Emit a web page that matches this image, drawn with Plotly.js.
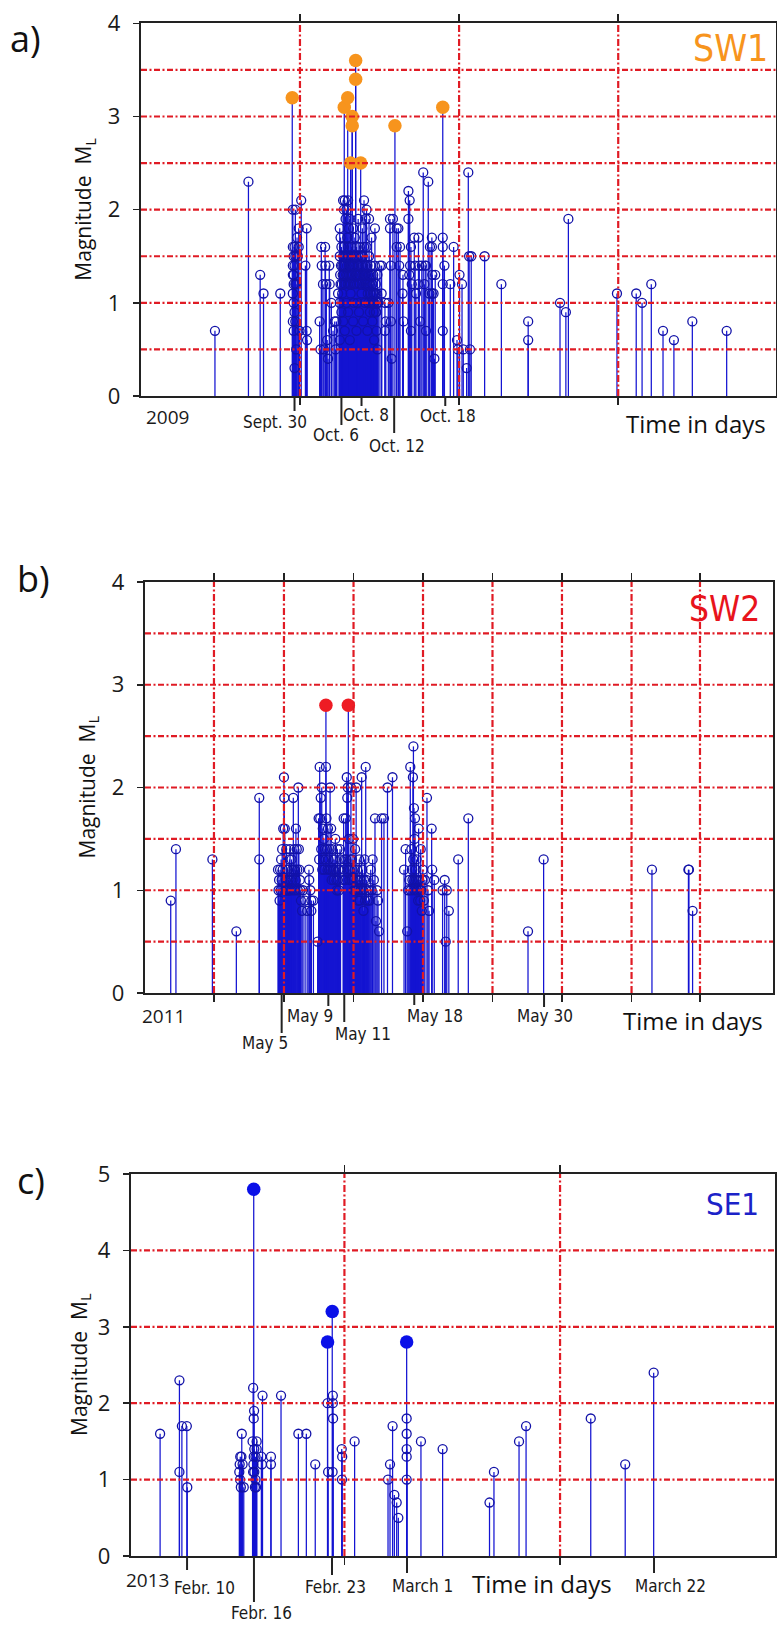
<!DOCTYPE html>
<html><head><meta charset="utf-8">
<script src="https://cdn.plot.ly/plotly-3.0.1.min.js"></script>
<style>html,body{margin:0;padding:0;background:#fff}#chart{width:777px;height:1634px}</style>
</head><body><div id="chart"></div>
<script>
// ---------------- DATA ----------------
// Panel a) SW1, 2009 - x: days counted from 1 Sept 2009 (Sept 30 = 29)
const eventsA = [
[19.6,0.7],[23.6,2.3],[25.0,1.3],[25.4,1.1],[27.4,1.1],
[28.9,2.0],[29.2,2.0],[28.9,1.6],[29.1,1.6],[29.0,1.5],[29.2,1.5],[28.9,1.4],[29.1,1.4],[28.9,1.3],[29.0,1.3],[29.0,1.2],[29.2,1.2],[28.9,1.1],[29.0,1.0],[29.1,0.9],[28.9,0.8],[29.2,0.8],[29.0,0.7],[29.1,0.3],[29.3,0.5],[29.3,1.2],[29.4,1.7],[29.5,1.5],[29.6,1.8],[29.6,1.6],[29.7,0.7],[29.9,2.1],[30.4,1.4],[30.55,1.8],[30.55,0.7],[30.6,0.6],
[32.1,0.8],[32.2,0.5],[32.3,1.6],[32.35,1.4],[32.5,1.2],[32.6,0.5],[32.75,1.6],[32.8,1.4],[32.9,1.2],[33.0,0.6],[33.1,0.4],[33.25,1.4],[33.3,1.2],[33.5,1.0],[33.7,0.7],[33.9,0.8],[34.0,0.5],[34.1,0.8],[34.3,1.1],
[34.5,1.8],[34.5,1.5],[34.5,1.0],[34.5,0.6],[34.6,1.7],[34.6,1.2],[34.7,1.6],[34.7,0.9],[34.8,1.4],[34.8,1.1],[34.9,2.1],[34.9,1.5],[34.9,0.8],[35.0,2.0],[35.0,1.6],[35.0,1.3],[35.1,2.1],[35.1,1.4],[35.1,0.7],[35.2,1.9],[35.2,1.2],[35.3,2.0],[35.3,1.5],[35.3,1.0],[35.4,1.7],[35.4,1.3],[35.5,2.1],[35.5,1.6],[35.5,0.9],[35.6,1.8],[35.6,1.4],[35.7,1.9],[35.7,1.2],[35.7,0.6],[35.8,1.5],[35.8,1.1],[35.9,1.6],[35.9,1.3],[36.1,1.8],[36.1,1.4],[36.1,0.8],[36.2,1.5],[36.2,1.0],[36.3,1.7],[36.3,1.2],[36.5,1.6],[36.5,1.3],[36.5,0.7],[36.6,1.4],[36.6,1.0],[36.7,1.9],[36.7,1.5],[36.8,1.3],[36.8,0.9],[36.9,1.6],[36.9,1.2],[37.1,1.5],[37.1,1.1],[37.2,1.8],[37.2,1.3],[37.3,1.4],[37.3,0.8],[37.4,2.1],[37.4,1.6],[37.5,1.3],[37.5,1.0],[37.6,1.9],[37.6,1.2],[37.7,2.0],[37.7,1.6],[37.8,1.4],[37.8,0.7],[37.9,1.3],[37.9,1.0],[38.0,1.9],[38.0,1.5],[38.1,1.2],[38.1,0.9],[38.2,1.4],[38.2,1.1],[38.3,1.7],[38.3,1.3],[38.4,1.2],[38.4,0.8],[38.5,1.3],[38.5,1.0],[38.6,1.1],[38.6,0.6],[38.7,1.8],[38.7,1.4],[38.8,1.2],[38.8,0.9],[38.9,1.1],[38.9,0.7],[39.0,1.3],[39.0,0.5],[39.1,1.0],
[34.55,1.3],[34.65,1.4],[34.75,1.2],[34.85,1.3],[34.95,1.4],[35.05,1.2],[35.15,1.5],[35.25,1.3],[35.35,1.4],[35.45,1.2],[35.55,1.5],[35.65,1.3],[35.75,1.4],[35.85,1.2],[35.95,1.4],[36.05,1.3],[36.15,1.2],[36.25,1.4],[36.35,1.3],[36.45,1.5],[36.55,1.2],[36.65,1.3],[36.75,1.4],[36.85,1.2],[36.95,1.3],[37.05,1.4],[37.15,1.2],[37.25,1.5],[37.35,1.3],[37.45,1.2],[37.55,1.4],[37.65,1.3],[37.75,1.2],[37.85,1.1],[37.95,1.2],[38.05,1.3],[38.15,1.1],[38.25,1.0],[38.35,1.2],[38.45,1.1],[38.55,0.9],[38.65,1.0],[38.75,1.1],[38.85,0.9],[38.95,1.0],
[39.3,1.4],[39.5,1.4],[39.5,1.1],[39.9,1.0],[39.9,0.7],[40.0,0.8],[40.3,1.0],[40.5,1.9],[40.5,1.8],[40.6,1.4],[40.6,0.8],[40.7,0.4],[40.85,1.9],[41.3,1.8],[41.3,1.6],[41.5,1.8],[41.6,1.4],[41.7,1.6],[42.0,1.1],[42.05,1.3],[42.1,0.8],
[42.7,2.2],[42.85,2.1],[42.7,1.9],[42.8,1.3],[42.9,1.4],[43.0,1.6],[43.0,0.7],[43.1,1.2],[43.4,1.7],[43.5,1.4],[43.6,1.1],[43.9,1.7],[43.9,1.2],[44.0,1.4],[44.1,0.8],[44.3,1.4],[44.47,2.4],[44.6,1.2],[44.7,1.4],[44.8,1.4],[44.8,0.7],[45.07,2.3],[45.2,1.1],[45.27,1.6],[45.5,1.7],[45.5,1.6],[45.55,1.3],[45.5,1.1],[45.7,1.1],[45.8,0.4],[45.9,1.3],
[46.8,1.7],[46.8,1.6],[47.0,1.4],[46.8,1.2],[46.8,0.7],[47.7,1.2],[48.1,1.6],[48.5,0.6],[48.6,0.5],[48.8,1.3],[49.1,1.2],[49.25,0.5],[49.65,0.3],[49.85,2.4],[49.95,1.5],[50.05,0.5],[50.2,1.5],
[51.8,1.5],[53.8,1.2],[57.0,0.8],[57.0,0.6],[60.8,1.0],[61.5,0.9],[61.8,1.9],[67.6,1.1],[69.9,1.1],[70.6,1.0],[71.7,1.2],[73.1,0.7],[74.4,0.6],[76.6,0.8],[80.7,0.7]
];
const bigA = [[28.83,3.2],[35.04,3.1],[35.45,3.2],[35.99,3.0],[35.99,2.9],[36.40,3.6],[36.40,3.4],[35.8,2.5],[37.0,2.5],[41.09,2.9],[46.8,3.1]];
const tickDayA = [29.1, 34.7, 37.1, 41.0, 47.1];
const tickTextA = ['Sept. 30','Oct. 6','Oct. 8','Oct. 12','Oct. 18'];
const vGridA = [29.75, 48.75, 67.75];
const hGridA = [0.5,1,1.5,2,2.5,3,3.5];

// Panel b) SW2, 2011 - x: day of May 2011
const eventsB = [
[-5.7,0.9],[-5.2,1.4],[-1.7,1.3],[0.6,0.6],[2.8,1.9],[2.8,1.3],
[4.6,1.2],[4.7,1.1],[4.8,1.2],[4.9,1.3],[5.0,1.4],[5.1,1.6],[5.17,2.1],[5.2,1.9],[5.25,1.6],[5.3,1.0],[5.4,1.4],[5.5,1.2],[5.6,1.1],[5.75,1.4],[5.9,1.3],[6.07,1.9],[6.15,1.4],[6.25,1.2],[6.32,1.6],[6.4,1.4],[6.55,2.0],[6.6,1.4],[6.7,1.1],[6.8,0.9],[6.9,0.8],[7.0,1.0],
[4.65,1.0],[4.75,0.9],[4.85,1.0],[4.95,1.1],[5.05,1.2],[5.35,1.1],[5.45,1.0],[5.55,1.2],[5.65,1.0],[5.7,1.3],[5.8,1.1],[5.85,1.0],[5.95,1.2],[6.0,1.1],[6.1,1.2],[6.2,1.0],[6.3,1.1],[6.45,1.2],[6.5,1.0],[6.65,1.2],[6.75,1.0],
[7.2,0.9],[7.4,0.8],[7.57,1.2],[7.6,1.1],[7.7,1.0],[7.8,0.9],[7.8,0.8],[8.0,0.9],
[8.4,0.5],[8.5,1.7],[8.6,2.2],[8.65,1.7],[8.7,1.9],[8.8,2.0],[8.9,1.6],[9.0,1.5],[9.2,2.2],[9.25,1.7],[9.3,1.4],[9.4,1.6],[9.5,1.2],[9.6,2.0],[9.7,1.6],[9.8,1.4],[9.9,1.3],[10.0,1.2],[10.1,1.5],[10.2,1.1],[10.3,1.4],[10.4,1.2],[10.55,1.4],[10.6,1.3],
[8.55,1.3],[8.75,1.4],[8.85,1.2],[8.95,1.3],[9.05,1.2],[9.1,1.4],[9.15,1.3],[9.35,1.2],[9.45,1.3],[9.55,1.4],[9.65,1.2],[9.75,1.1],[9.85,1.2],[9.95,1.1],[10.05,1.3],[10.15,1.2],[10.25,1.0],[10.35,1.1],[10.45,1.0],[10.5,1.2],
[10.85,1.1],[10.9,1.7],[11.0,1.3],[11.1,1.7],[11.2,2.1],[11.25,1.9],[11.3,2.0],[11.4,1.5],[11.5,1.2],[11.6,2.0],[11.7,1.3],[11.8,1.5],[11.9,1.0],[12.0,1.4],[12.1,2.0],[12.2,1.2],[12.3,0.9],[12.4,1.3],[12.5,1.1],[12.63,2.1],[12.7,1.2],[12.8,0.8],[12.9,1.3],[13.02,2.2],[13.1,1.1],[13.2,0.9],[13.3,1.0],[13.5,1.2],[13.68,1.3],[13.8,1.1],[13.91,1.7],[14.0,0.7],[14.1,1.0],[14.2,0.9],[14.3,0.6],[14.54,1.7],[14.77,1.7],[15.11,2.0],[15.59,2.1],
[10.95,1.2],[11.05,1.1],[11.15,1.3],[11.35,1.2],[11.45,1.1],[11.55,1.3],[11.65,1.1],[11.75,1.2],[11.85,1.1],[11.95,1.2],[12.05,1.0],[12.15,1.1],[12.25,1.0],[12.35,1.1],[12.45,0.9],[12.55,1.0],[12.75,1.0],[12.85,1.1],[12.95,0.9],[13.05,1.0],[13.4,0.9],[13.6,1.0],
[16.7,1.2],[16.85,1.4],[17.0,0.6],[17.1,1.0],[17.3,2.2],[17.4,1.4],[17.55,2.1],[17.6,2.4],[17.65,1.8],[17.7,1.5],[17.75,1.7],[17.8,1.2],[17.9,1.3],[18.0,1.1],[18.1,1.6],[18.2,1.0],[18.3,1.4],[18.4,0.8],[18.5,1.2],[18.6,0.9],[18.7,1.1],[18.9,1.9],[19.0,1.0],[19.1,0.8],[19.35,1.6],[19.4,1.2],[19.6,1.1],[20.4,1.0],[20.6,1.1],[20.7,0.5],[20.8,1.0],[21.0,0.8],[21.9,1.3],[22.87,1.7],
[17.2,1.1],[17.35,1.0],[17.45,1.2],[17.5,1.1],[17.58,1.3],[17.68,1.1],[17.72,1.0],[17.85,1.1],[17.95,1.0],[18.05,0.9],[18.15,1.1],[18.25,0.9],[18.35,1.0],[18.45,1.1],
[28.6,0.6],[30.1,1.3],[40.5,1.2],[44.0,1.2],[44.05,1.2],[44.4,0.8]
];
const bigB = [[9.2,2.8],[11.35,2.8]];
const tickDayB = [4.95, 9.43, 10.96, 17.68, 30.14];
const tickTextB = ['May 5','May 9','May 11','May 18','May 30'];
const vGridB = [-1.55, 5.17, 11.85, 18.52, 25.19, 31.86, 38.54, 45.11];
const hGridB = [0.5,1,1.5,2,2.5,3,3.5];

// Panel c) SE1, 2013 - x: day counted in February 2013 (March 1 = 29)
const eventsC = [
[7.96,1.6],[9.61,2.3],[9.61,1.1],[9.82,1.7],[10.24,1.7],[10.28,0.9],
[14.72,1.1],[14.75,1.2],[14.78,1.0],[14.8,1.3],[14.85,0.9],[14.9,1.3],[14.93,1.6],[15.0,1.2],[15.1,0.9],
[15.85,1.5],[15.9,2.2],[15.9,1.1],[15.92,1.2],[15.95,1.8],[15.95,1.3],[15.98,1.9],[16.0,1.4],[16.0,1.1],[16.05,0.9],[16.1,1.3],[16.1,1.0],[16.15,0.9],[16.2,1.5],[16.2,1.4],
[16.6,1.3],[16.65,1.2],[16.7,2.1],[17.42,1.3],[17.42,1.2],[18.28,2.1],[19.76,1.6],[20.44,1.6],[21.2,1.2],
[22.25,2.0],[22.3,1.1],[22.7,2.1],[22.7,2.0],[22.72,1.8],[22.68,1.1],[23.46,1.4],[23.5,1.3],[23.48,1.0],[24.56,1.5],
[27.41,1.0],[27.58,1.2],[27.8,1.7],[27.95,0.8],[28.15,0.7],[28.29,0.5],[29.0,1.8],[29.0,1.6],[29.0,1.4],[29.0,1.3],[29.0,1.0],
[30.22,1.5],[32.07,1.4],[36.07,0.7],[36.45,1.1],[38.59,1.5],[39.19,1.7],[44.71,1.8],[47.65,1.2],[50.08,2.4]
];
const bigC = [[15.95,4.8],[22.25,2.8],[22.65,3.2],[29.0,2.8]];
const tickDayC = [10.26, 15.97, 22.63, 29.03, 50.11];
const tickTextC = ['Febr. 10','Febr. 16','Febr. 23','March 1','March 22'];
const vGridC = [23.69, 42.09];
const hGridC = [1,2,3,4];

// ---------------- STYLE / LAYOUT ----------------
const W = 777, H = 1634;
const FONT = '"Open Sans", "Noto Sans", sans-serif';
const NARROW = '"Liberation Sans Narrow", "Arial Narrow", "DejaVu Sans Condensed", "Open Sans", sans-serif';
const STEM = '#1414d2', CIRC = '#1212a8', RED = '#e01b24', AXC = '#222';
const py = p => 1 - p / H;   // pixel row -> paper y
const px = p => p / W;       // pixel col -> paper x

const panels = [
  {ev: eventsA, big: bigA, bigColor: '#f7941d', xr: [10.77, 86.53], yr: [0, 4], xd: [141, 775.5], yd: [23.3, 396],
   vGrid: vGridA, hGrid: hGridA, ytv: [0,1,2,3,4], ticks: tickDayA, tickText: tickTextA,
   tickLen: [15, 29, 10, 37, 10], labDx: [-20, -5, 4, 3, 3], labY: [422, 435, 415, 446, 416],
   name: 'SW1', nameColor: '#f7941d', nameX: 730, nameY: 48, nameSize: 37,
   letter: 'a)', letterX: 25, letterY: 39, year: '2009', yearX: 167, yearY: 417,
   timeX: 696, timeY: 423, ytitleX: 84},
  {ev: eventsB, big: bigB, bigColor: '#ee1c24', xr: [-8.17, 52.12], yr: [0, 4], xd: [145, 773], yd: [582, 993],
   vGrid: vGridB, hGrid: hGridB, ytv: [0,1,2,3,4], ticks: tickDayB, tickText: tickTextB,
   tickLen: [40, 13, 29, 12, 14], labDx: [-17, -18, 19, 21, 1], labY: [1043, 1016, 1034, 1016, 1016],
   name: 'SW2', nameColor: '#e8141c', nameX: 724, nameY: 609, nameSize: 35,
   letter: 'b)', letterX: 33, letterY: 578, year: '2011', yearX: 163, yearY: 1016,
   timeX: 693, timeY: 1021, ytitleX: 87},
  {ev: eventsC, big: bigC, bigColor: '#0a10e8', xr: [5.477, 60.39], yr: [0, 5], xd: [131, 774.5], yd: [1174, 1556],
   vGrid: vGridC, hGrid: hGridC, ytv: [0,1,2,3,4,5], ticks: tickDayC, tickText: tickTextC,
   tickLen: [14, 46, 19, 17, 17], labDx: [17, 8, 3, 15, 16], labY: [1588, 1613, 1587, 1586, 1586],
   name: 'SE1', nameColor: '#1b22c8', nameX: 732, nameY: 1204, nameSize: 31,
   letter: 'c)', letterX: 31, letterY: 1180, year: '2013', yearX: 147, yearY: 1580,
   timeX: 542, timeY: 1583, ytitleX: 80}
];

const traces = [], shapes = [], annotations = [];
const layout = {
  width: W, height: H, margin: {l: 0, r: 0, t: 0, b: 0},
  paper_bgcolor: '#fff', plot_bgcolor: '#fff', showlegend: false,
  font: {family: FONT, color: '#1a1a1a'}
};

panels.forEach((p, i) => {
  const n = i === 0 ? '' : String(i + 1);
  const xa = 'x' + n, ya = 'y' + n;
  layout['xaxis' + n] = {
    domain: [px(p.xd[0]), px(p.xd[1])], range: p.xr, anchor: ya,
    tickmode: 'array', tickvals: p.vGrid, showticklabels: false,
    ticks: 'outside', ticklen: 7, tickwidth: 1.5, tickcolor: AXC,
    showline: true, linecolor: AXC, linewidth: 2.2, mirror: 'ticks',
    showgrid: false, zeroline: false, fixedrange: true
  };
  layout['yaxis' + n] = {
    domain: [py(p.yd[1]), py(p.yd[0])], range: p.yr, anchor: xa,
    tickmode: 'array', tickvals: p.ytv, ticktext: p.ytv.map(String),
    ticks: 'outside', ticklen: 6, tickwidth: 1.5, tickcolor: AXC, ticklabelstandoff: 8,
    tickfont: {family: FONT, size: 22, color: '#1a1a1a'},
    showline: true, linecolor: AXC, linewidth: 2.2, mirror: true,
    showgrid: false, zeroline: false, fixedrange: true
  };

  // stems (all events incl. big ones)
  const all = p.ev.concat(p.big);
  const sx = [], sy = [];
  all.forEach(e => { sx.push(e[0], e[0], null); sy.push(0, e[1], null); });
  traces.push({type: 'scatter', mode: 'lines', x: sx, y: sy, xaxis: xa, yaxis: ya,
    line: {color: STEM, width: 1.25}, hoverinfo: 'skip'});
  traces.push({type: 'scatter', mode: 'markers', x: p.ev.map(e => e[0]), y: p.ev.map(e => e[1]),
    xaxis: xa, yaxis: ya, marker: {symbol: 'circle-open', size: 9, color: CIRC, line: {width: 1.3}}, hoverinfo: 'skip'});
  traces.push({type: 'scatter', mode: 'markers', x: p.big.map(e => e[0]), y: p.big.map(e => e[1]),
    xaxis: xa, yaxis: ya, marker: {symbol: 'circle', size: 13.5, color: p.bigColor, line: {width: 0}}, hoverinfo: 'skip'});

  // red grid lines drawn above traces
  p.hGrid.forEach(v => shapes.push({type: 'line', layer: 'above', xref: xa + ' domain', yref: ya,
    x0: 0, x1: 1, y0: v, y1: v, line: {color: RED, width: 2.2, dash: '6px,2.5px,2px,2.5px'}}));
  p.vGrid.forEach(v => shapes.push({type: 'line', layer: 'above', xref: xa, yref: ya + ' domain',
    x0: v, x1: v, y0: 0, y1: 1, line: {color: RED, width: 2.2, dash: '7px,2.5px,2px,2.5px'}}));

  // labelled date ticks below the axis
  p.ticks.forEach((d, k) => {
    shapes.push({type: 'line', layer: 'above', xref: xa, yref: 'paper', x0: d, x1: d,
      y0: py(p.yd[1]), y1: py(p.yd[1] + p.tickLen[k]), line: {color: AXC, width: 2}});
    annotations.push({xref: xa, yref: 'paper', x: d, y: py(p.labY[k]), xshift: p.labDx[k],
      text: p.tickText[k], showarrow: false, xanchor: 'center', yanchor: 'middle',
      font: {family: NARROW, size: 17, color: '#1a1a1a'}});
  });

  annotations.push({xref: 'paper', yref: 'paper', x: px(p.yearX), y: py(p.yearY), text: p.year,
    showarrow: false, xanchor: 'center', yanchor: 'middle', font: {family: FONT, size: 19, color: '#1a1a1a'}});
  annotations.push({xref: 'paper', yref: 'paper', x: px(p.timeX), y: py(p.timeY), text: 'Time in days',
    showarrow: false, xanchor: 'center', yanchor: 'middle', font: {family: FONT, size: 24, color: '#111'}});
  annotations.push({xref: 'paper', yref: 'paper', x: px(p.nameX), y: py(p.nameY), text: p.name,
    showarrow: false, xanchor: 'center', yanchor: 'middle', font: {family: NARROW, size: p.nameSize, color: p.nameColor}});
  annotations.push({xref: 'paper', yref: 'paper', x: px(p.letterX), y: py(p.letterY), text: p.letter,
    showarrow: false, xanchor: 'center', yanchor: 'middle', font: {family: FONT, size: 36, color: '#111'}});
  annotations.push({xref: 'paper', yref: 'paper', x: px(p.ytitleX), y: py((p.yd[0] + p.yd[1]) / 2),
    text: 'Magnitude  M<sub>L</sub>', textangle: -90, showarrow: false, xanchor: 'center', yanchor: 'middle',
    font: {family: FONT, size: 21, color: '#111'}});
});

layout.shapes = shapes;
layout.annotations = annotations;
Plotly.newPlot('chart', traces, layout, {staticPlot: true, displayModeBar: false});
</script>
</body></html>
